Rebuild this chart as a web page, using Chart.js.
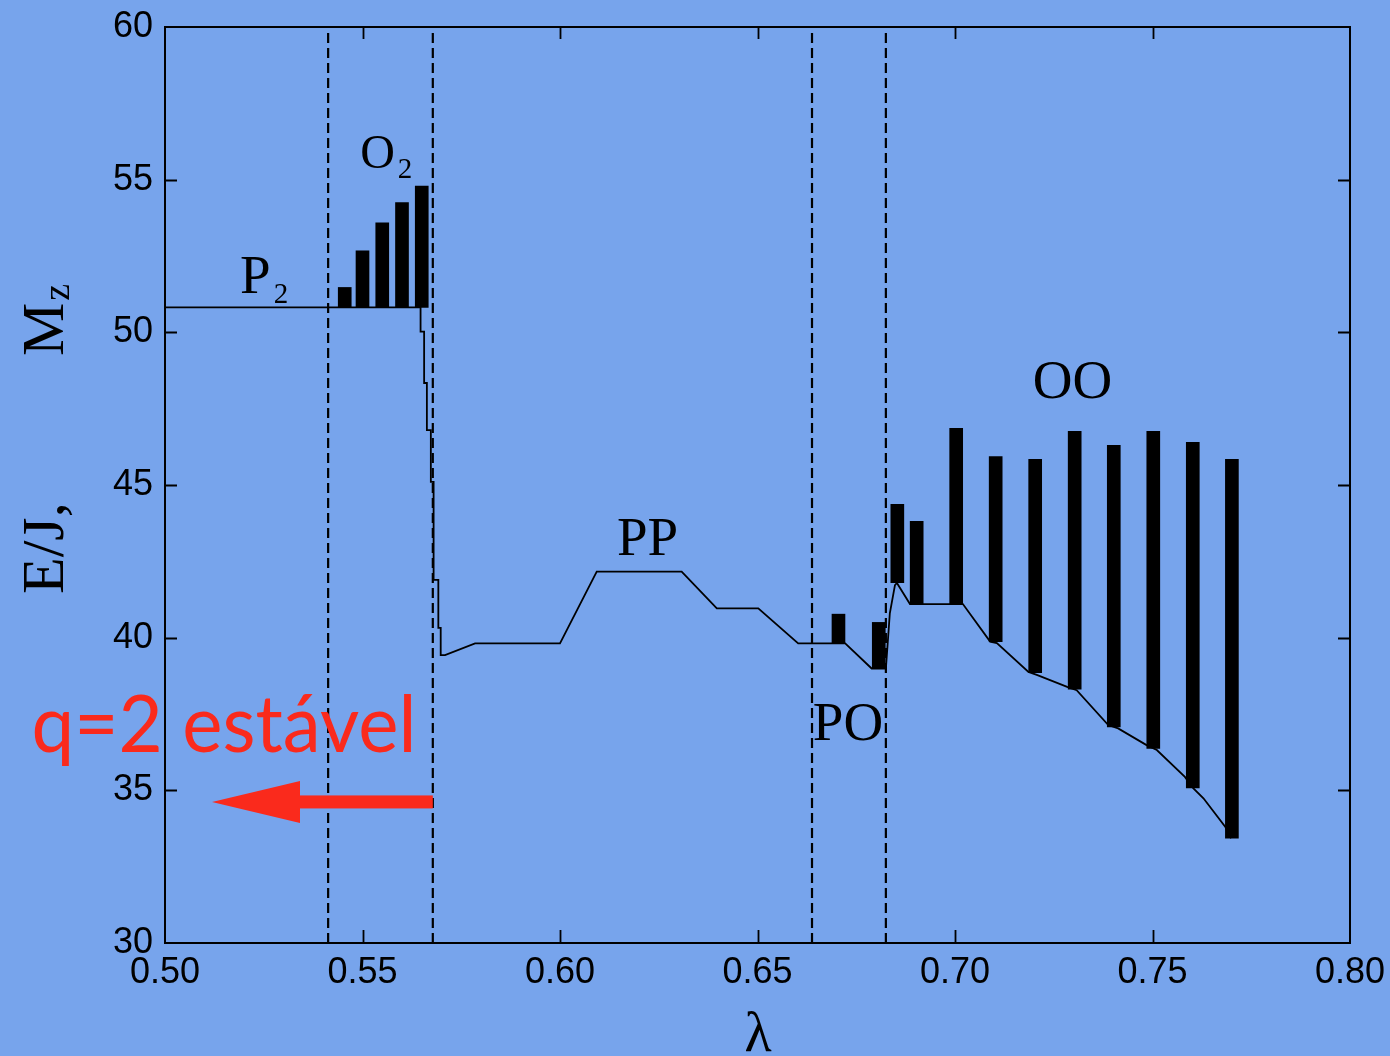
<!DOCTYPE html>
<html><head><meta charset="utf-8">
<script src="https://cdn.jsdelivr.net/npm/chart.js@4/dist/chart.umd.min.js"></script>
<style>html,body{margin:0;padding:0;background:#77a4ec;overflow:hidden}#wrap{width:1390px;height:1056px}</style>
</head><body><div id="wrap"><canvas id="c" width="1390" height="1056"></canvas></div>
<script>
// ---- data ----
const xTickValues = [0.50, 0.55, 0.60, 0.65, 0.70, 0.75, 0.80];
const xTickLabels = ['0.50', '0.55', '0.60', '0.65', '0.70', '0.75', '0.80'];
const yTickValues = [30, 35, 40, 45, 50, 55, 60];
const yTickLabels = ['30', '35', '40', '45', '50', '55', '60'];

// floating bars (λ, low, high)
const barLambda = [0.5455, 0.5500, 0.5550, 0.5600, 0.5650, 0.6705, 0.6807, 0.6854, 0.6903, 0.7003, 0.7103, 0.7203, 0.7303, 0.7402, 0.7502, 0.7602, 0.7701];
const barLow    = [50.82, 50.82, 50.82, 50.82, 50.82, 39.81, 38.99, 41.80, 41.10, 41.10, 39.87, 38.85, 38.31, 37.08, 36.37, 35.08, 33.43];
const barHigh   = [51.47, 52.67, 53.59, 54.25, 54.79, 40.77, 40.50, 44.37, 43.81, 46.86, 45.93, 45.84, 46.76, 46.30, 46.76, 46.40, 45.84];

// ground-state curve
const curveLambda = [0.5000, 0.5647, 0.5647, 0.5656, 0.5656, 0.5663, 0.5663, 0.5673, 0.5673, 0.5680, 0.5680, 0.5692, 0.5692, 0.5698, 0.5698, 0.5709, 0.5785, 0.6000, 0.6093, 0.6308, 0.6397, 0.6502, 0.6603, 0.6722, 0.6789, 0.6825, 0.6835, 0.6848, 0.6853, 0.6886, 0.7020, 0.7089, 0.7106, 0.7186, 0.7207, 0.7284, 0.7308, 0.7388, 0.7413, 0.7485, 0.7511, 0.7582, 0.7603, 0.7629, 0.7684, 0.7699];
const curveEnergy = [50.82, 50.82, 50.02, 50.02, 48.34, 48.34, 46.80, 46.80, 45.10, 45.10, 41.89, 41.89, 40.32, 40.32, 39.43, 39.43, 39.81, 39.81, 42.16, 42.16, 40.96, 40.96, 39.81, 39.81, 38.99, 38.99, 40.80, 41.72, 41.79, 41.10, 41.10, 39.87, 39.82, 38.88, 38.78, 38.39, 38.28, 37.14, 37.03, 36.48, 36.32, 35.44, 35.07, 34.74, 33.81, 33.43];

// phase boundaries (dashed)
const boundaryLambda = [0.5413, 0.5678, 0.6638, 0.6825];

// region labels
const regionText = ['O', 'P', 'PP', 'PO', 'OO'];
const regionSub  = ['2', '2', '', '', ''];
const regionLambda = [0.5494, 0.5190, 0.6144, 0.6640, 0.7197];
const regionEnergy = [55.38, 51.29, 42.71, 36.65, 47.85];

const xTitle = 'λ';
const yTitleA = 'E/J,';
const yTitleB = 'M';
const yTitleSub = 'z';
const noteText = 'q=2 estável';
const arrowFrom = [0.5678, 34.62];
const arrowTo = [0.5119, 34.62];

// ---- drawing ----
const BG = '#77a4ec';
const RED = '#fa2a1c';

const decor = {
  id: 'decor',
  beforeDraw(chart) {
    const ctx = chart.ctx;
    ctx.save();
    ctx.fillStyle = BG;
    ctx.fillRect(0, 0, chart.width, chart.height);
    ctx.restore();
  },
  afterDraw(chart) {
    const ctx = chart.ctx;
    const a = chart.chartArea;
    const xs = chart.scales.x, ys = chart.scales.y;
    ctx.save();
    // frame
    ctx.strokeStyle = '#000';
    ctx.lineWidth = 2;
    ctx.strokeRect(a.left, a.top, a.right - a.left, a.bottom - a.top);
    // inward ticks
    ctx.beginPath();
    xTickValues.forEach(v => {
      const px = Math.round(xs.getPixelForValue(v)) + 0.5;
      if (px > a.left + 2 && px < a.right - 2) {
        ctx.moveTo(px, a.bottom); ctx.lineTo(px, a.bottom - 13);
        ctx.moveTo(px, a.top); ctx.lineTo(px, a.top + 12);
      }
    });
    yTickValues.forEach(v => {
      const py = Math.round(ys.getPixelForValue(v)) + 0.5;
      if (py > a.top + 2 && py < a.bottom - 2) {
        ctx.moveTo(a.left, py); ctx.lineTo(a.left + 12, py);
        ctx.moveTo(a.right, py); ctx.lineTo(a.right - 12, py);
      }
    });
    ctx.lineWidth = 1.8;
    ctx.stroke();

    // region labels
    ctx.fillStyle = '#000';
    ctx.textBaseline = 'alphabetic';
    ctx.textAlign = 'left';
    regionText.forEach((t, i) => {
      const px = xs.getPixelForValue(regionLambda[i]);
      const py = ys.getPixelForValue(regionEnergy[i]);
      const size = i === 0 ? 48 : 55;
      ctx.font = size + 'px "Liberation Serif"';
      ctx.fillText(t, px, py);
      if (regionSub[i]) {
        const w = ctx.measureText(t).width;
        ctx.font = '29px "Liberation Serif"';
        ctx.fillText(regionSub[i], px + w + 3, py + 10);
      }
    });

    // x title
    ctx.font = '56px "Liberation Serif"';
    ctx.textAlign = 'center';
    ctx.fillText(xTitle, 758, 1051);

    // y title (rotated)
    ctx.save();
    ctx.translate(63, 0);
    ctx.rotate(-Math.PI / 2);
    ctx.textAlign = 'left';
    ctx.font = '60px "Liberation Serif"';
    ctx.fillText(yTitleA, -594, 0);
    ctx.fillText(yTitleB, -356, 0);
    const mw = ctx.measureText(yTitleB).width;
    ctx.font = '38px "Liberation Serif"';
    ctx.fillText(yTitleSub, -356 + mw + 2, 6);
    ctx.restore();

    // red note
    ctx.fillStyle = RED;
    ctx.font = '80px Lato';
    ctx.textAlign = 'left';
    const tw = ctx.measureText(noteText).width;
    const target = 385;
    ctx.save();
    ctx.translate(31.5, 752);
    ctx.scale(target / tw, 1);
    ctx.fillText(noteText, 0, 0);
    ctx.restore();

    // red arrow
    const x0 = xs.getPixelForValue(arrowFrom[0]);
    const x1 = xs.getPixelForValue(arrowTo[0]);
    const yc = ys.getPixelForValue(arrowFrom[1]);
    const headLen = 88;
    ctx.fillRect(x1 + headLen - 1, yc - 6.5, x0 - (x1 + headLen - 1), 13);
    ctx.beginPath();
    ctx.moveTo(x1, yc);
    ctx.lineTo(x1 + headLen, yc - 21);
    ctx.lineTo(x1 + headLen, yc + 21);
    ctx.closePath();
    ctx.fill();
    ctx.restore();
  }
};

const datasets = [
  {
    type: 'bar',
    data: barLambda.map((l, i) => ({ x: l, y: [barLow[i], barHigh[i]] })),
    backgroundColor: '#000',
    borderWidth: 0,
    barThickness: 13,
    grouped: false,
    order: 0
  },
  {
    type: 'line',
    data: curveLambda.map((l, i) => ({ x: l, y: curveEnergy[i] })),
    borderColor: '#000',
    borderWidth: 1.8,
    pointRadius: 0,
    tension: 0,
    fill: false,
    order: 1
  },
  ...boundaryLambda.map(l => ({
    type: 'line',
    data: [{ x: l, y: 30 }, { x: l, y: 60 }],
    borderColor: '#000',
    borderWidth: 2.2,
    borderDash: [10, 5],
    pointRadius: 0,
    fill: false,
    order: 2
  }))
];

new Chart(document.getElementById('c'), {
  type: 'bar',
  data: { datasets },
  options: {
    responsive: false,
    animation: false,
    devicePixelRatio: 1,
    layout: { padding: { left: 0, right: 40, top: 27, bottom: 0 } },
    plugins: { legend: { display: false }, tooltip: { enabled: false } },
    scales: {
      x: {
        type: 'linear', min: 0.5, max: 0.8, offset: false,
        grid: { display: false, drawTicks: false, offset: false },
        border: { display: false },
        afterBuildTicks: s => { s.ticks = xTickValues.map(v => ({ value: v })); },
        ticks: {
          callback: (v, i) => xTickLabels[i],
          font: { family: 'Liberation Sans', size: 36 },
          color: '#000', padding: 8, maxRotation: 0, autoSkip: false
        },
        afterFit: s => { s.height = 113; s.paddingLeft = 0; s.paddingRight = 0; }
      },
      y: {
        type: 'linear', min: 30, max: 60,
        grid: { display: false, drawTicks: false },
        border: { display: false },
        afterBuildTicks: s => { s.ticks = yTickValues.map(v => ({ value: v })); },
        ticks: {
          callback: (v, i) => yTickLabels[i],
          font: { family: 'Liberation Sans', size: 36 },
          color: '#000', padding: 12, autoSkip: false
        },
        afterFit: s => { s.width = 165; s.paddingTop = 0; s.paddingBottom = 0; }
      }
    }
  },
  plugins: [decor]
});
</script>
</body></html>
